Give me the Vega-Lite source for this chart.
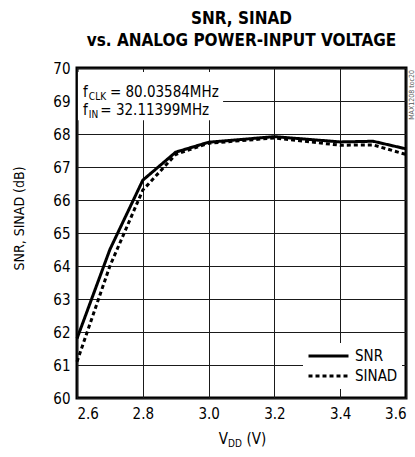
{
  "$schema": "https://vega.github.io/schema/vega-lite/v6.json",
  "width": 329,
  "height": 330,
  "autosize": {"type": "none"},
  "padding": {"left": 77, "top": 68, "right": 9, "bottom": 59},
  "background": "white",
  "title": {
    "text": ["SNR, SINAD", "vs. ANALOG POWER-INPUT VOLTAGE"],
    "font": "DejaVu Sans Condensed",
    "fontSize": 17,
    "fontWeight": "bold",
    "color": "black",
    "anchor": "middle",
    "offset": 11,
    "lineHeight": 22
  },
  "config": {
    "font": "DejaVu Sans Condensed",
    "view": {"stroke": "black", "strokeWidth": 3},
    "axis": {
      "grid": true,
      "gridColor": "#1a1a1a",
      "gridWidth": 1,
      "gridOpacity": 1,
      "domain": false,
      "ticks": false,
      "labelOverlap": false,
      "labelFont": "DejaVu Sans Condensed",
      "labelFontSize": 15,
      "labelColor": "black",
      "titleFont": "DejaVu Sans Condensed",
      "titleFontSize": 14,
      "titleFontWeight": "normal",
      "titleColor": "black"
    }
  },
  "datasets": {
    "curves": [
      {"vdd": 2.6, "db": 61.8, "series": "SNR"},
      {"vdd": 2.7, "db": 64.5, "series": "SNR"},
      {"vdd": 2.8, "db": 66.6, "series": "SNR"},
      {"vdd": 2.9, "db": 67.45, "series": "SNR"},
      {"vdd": 3.0, "db": 67.75, "series": "SNR"},
      {"vdd": 3.2, "db": 67.92, "series": "SNR"},
      {"vdd": 3.4, "db": 67.76, "series": "SNR"},
      {"vdd": 3.5, "db": 67.78, "series": "SNR"},
      {"vdd": 3.6, "db": 67.55, "series": "SNR"},
      {"vdd": 2.6, "db": 61.1, "series": "SINAD"},
      {"vdd": 2.7, "db": 64.0, "series": "SINAD"},
      {"vdd": 2.8, "db": 66.3, "series": "SINAD"},
      {"vdd": 2.9, "db": 67.38, "series": "SINAD"},
      {"vdd": 3.0, "db": 67.72, "series": "SINAD"},
      {"vdd": 3.2, "db": 67.88, "series": "SINAD"},
      {"vdd": 3.4, "db": 67.66, "series": "SINAD"},
      {"vdd": 3.5, "db": 67.67, "series": "SINAD"},
      {"vdd": 3.6, "db": 67.38, "series": "SINAD"}
    ]
  },
  "layer": [
    {
      "data": {"name": "curves"},
      "mark": {"type": "line", "color": "black", "strokeWidth": 3},
      "encoding": {
        "x": {"field": "vdd", "type": "quantitative", "scale": {"domain": [2.6, 3.6], "nice": false, "zero": false},
          "axis": {"values": [2.6, 2.8, 3.0, 3.2, 3.4, 3.6], "format": ".1f", "title": null, "labelPadding": 8}},
        "y": {"field": "db", "type": "quantitative", "scale": {"domain": [60, 70], "nice": false, "zero": false},
          "axis": {"values": [60, 61, 62, 63, 64, 65, 66, 67, 68, 69, 70], "tickCount": 11, "title": "SNR, SINAD (dB)", "labelPadding": 7, "titlePadding": 26, "titleY": 150}},
        "strokeDash": {
          "field": "series", "type": "nominal",
          "scale": {"domain": ["SNR", "SINAD"], "range": [[1, 0], [4, 3]]},
          "legend": {
            "title": null, "orient": "none", "legendX": 226, "legendY": 275,
            "fillColor": "white", "padding": 4, "symbolType": "stroke", "symbolSize": 1600,
            "symbolStrokeWidth": 3, "symbolStrokeColor": "black", "labelFontSize": 15,
            "labelFont": "DejaVu Sans Condensed", "labelColor": "black", "clipHeight": 18,
            "rowPadding": 2, "labelOffset": 5
          }
        }
      }
    },
    {
      "data": {"values": [{}]},
      "mark": {"type": "rect", "fill": "white"},
      "encoding": {
        "x": {"datum": 2.603, "type": "quantitative"},
        "x2": {"datum": 3.044},
        "y": {"datum": 69.88, "type": "quantitative"},
        "y2": {"datum": 68.42}
      }
    },
    {
      "data": {"values": [{}]},
      "mark": {"type": "text", "fontSize": 15, "align": "left", "baseline": "alphabetic", "color": "black"},
      "encoding": {"x": {"datum": 2.618}, "y": {"datum": 69.12}, "text": {"value": "f"}}
    },
    {
      "data": {"values": [{}]},
      "mark": {"type": "text", "fontSize": 10, "align": "left", "baseline": "alphabetic", "color": "black"},
      "encoding": {"x": {"datum": 2.636}, "y": {"datum": 69.03}, "text": {"value": "CLK"}}
    },
    {
      "data": {"values": [{}]},
      "mark": {"type": "text", "fontSize": 15, "align": "left", "baseline": "alphabetic", "color": "black"},
      "encoding": {"x": {"datum": 2.700}, "y": {"datum": 69.12}, "text": {"value": "= 80.03584MHz"}}
    },
    {
      "data": {"values": [{}]},
      "mark": {"type": "text", "fontSize": 15, "align": "left", "baseline": "alphabetic", "color": "black"},
      "encoding": {"x": {"datum": 2.618}, "y": {"datum": 68.58}, "text": {"value": "f"}}
    },
    {
      "data": {"values": [{}]},
      "mark": {"type": "text", "fontSize": 10, "align": "left", "baseline": "alphabetic", "color": "black"},
      "encoding": {"x": {"datum": 2.636}, "y": {"datum": 68.49}, "text": {"value": "IN"}}
    },
    {
      "data": {"values": [{}]},
      "mark": {"type": "text", "fontSize": 15, "align": "left", "baseline": "alphabetic", "color": "black"},
      "encoding": {"x": {"datum": 2.671}, "y": {"datum": 68.58}, "text": {"value": "= 32.11399MHz"}}
    },
    {
      "data": {"values": [{}]},
      "mark": {"type": "text", "fontSize": 15, "align": "right", "baseline": "alphabetic", "color": "black"},
      "encoding": {"x": {"datum": 3.059}, "y": {"datum": 58.6}, "text": {"value": "V"}}
    },
    {
      "data": {"values": [{}]},
      "mark": {"type": "text", "fontSize": 10, "align": "left", "baseline": "alphabetic", "color": "black"},
      "encoding": {"x": {"datum": 3.059}, "y": {"datum": 58.51}, "text": {"value": "DD"}}
    },
    {
      "data": {"values": [{}]},
      "mark": {"type": "text", "fontSize": 15, "align": "left", "baseline": "alphabetic", "color": "black"},
      "encoding": {"x": {"datum": 3.115}, "y": {"datum": 58.6}, "text": {"value": "(V)"}}
    },
    {
      "data": {"values": [{}]},
      "mark": {"type": "text", "fontSize": 7, "align": "right", "baseline": "top", "angle": 270, "color": "#555555"},
      "encoding": {"x": {"datum": 3.606}, "y": {"datum": 69.94}, "text": {"value": "MAX1208 toc20"}}
    }
  ]
}
